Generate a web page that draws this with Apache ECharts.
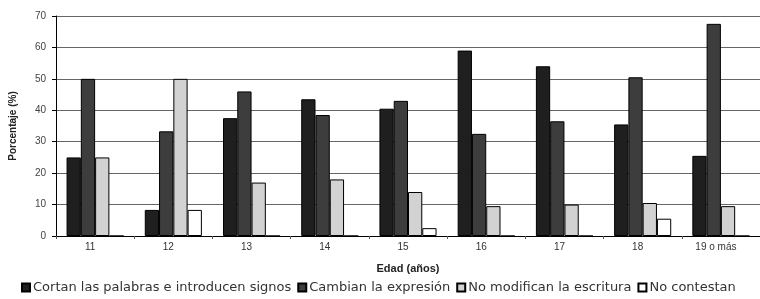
<!DOCTYPE html>
<html><head><meta charset="utf-8">
<script src="https://cdn.jsdelivr.net/npm/echarts@6/dist/echarts.min.js"></script>
<style>html,body{margin:0;padding:0;background:#fff}#c{width:760px;height:299px}</style>
</head><body><div id="c"></div>
<script>
const categories = ['11','12','13','14','15','16','17','18','19 o más'];
const seriesNames = ['Cortan las palabras e introducen signos','Cambian la expresión','No modifican la escritura','No contestan'];
const cortan = [25, 8.3, 37.5, 43.5, 40.5, 59, 54, 35.5, 25.5];
const cambian = [50, 33.3, 46, 38.5, 43, 32.5, 36.5, 50.5, 67.5];
const noModifican = [25, 50, 17, 18, 14, 9.5, 10, 10.5, 9.5];
const noContestan = [0, 8.3, 0, 0, 2.5, 0, 0, 5.5, 0];
const yTicks = [0,10,20,30,40,50,60,70];

const colors = ['#1f1f1f','#3d3d3d','#d2d2d2','#ffffff'];
const data = [cortan, cambian, noModifican, noContestan];
const chart = echarts.init(document.getElementById('c'));
chart.setOption({
  animation:false,
  textStyle:{fontFamily:'Liberation Sans, Arial, sans-serif'},
  grid:{left:55, top:16, right:-6, bottom:63},
  legend:{
    bottom:0, left:16, itemWidth:8, itemHeight:8, itemGap:6, icon:'rect',
    textStyle:{fontSize:13, color:'#333', fontFamily:'DejaVu Sans', padding:[0,0,0,-2]},
    data: seriesNames
  },
  xAxis:{
    type:'category', data:categories,
    name:'Edad (años)', nameLocation:'middle', nameGap:27,
    nameTextStyle:{fontSize:11, fontWeight:'bold', color:'#222'},
    axisLine:{lineStyle:{color:'#000'}},
    axisTick:{show:true, length:3, lineStyle:{color:'#555'}},
    axisLabel:{fontSize:10, color:'#333', margin:6, padding:[0,10,0,0]}
  },
  yAxis:{
    type:'value', min:0, max:70, interval:10,
    name:'Porcentaje (%)', nameLocation:'middle', nameGap:38, nameRotate:90,
    nameTextStyle:{fontSize:10, fontWeight:'bold', color:'#222'},
    axisLine:{show:true, lineStyle:{color:'#000'}},
    axisTick:{show:true, length:4, lineStyle:{color:'#000'}},
    axisLabel:{fontSize:10, color:'#444', margin:10,
      formatter: v => yTicks.includes(v) ? String(v) : ''},
    splitLine:{lineStyle:{color:'#666', width:1}}
  },
  series: seriesNames.map((n,i)=>({
    name:n, type:'bar', data:data[i],
    barGap:'0%', barCategoryGap:'27%',
    itemStyle:{color:colors[i], borderColor:'#000', borderWidth:1}
  }))
});
</script></body></html>
